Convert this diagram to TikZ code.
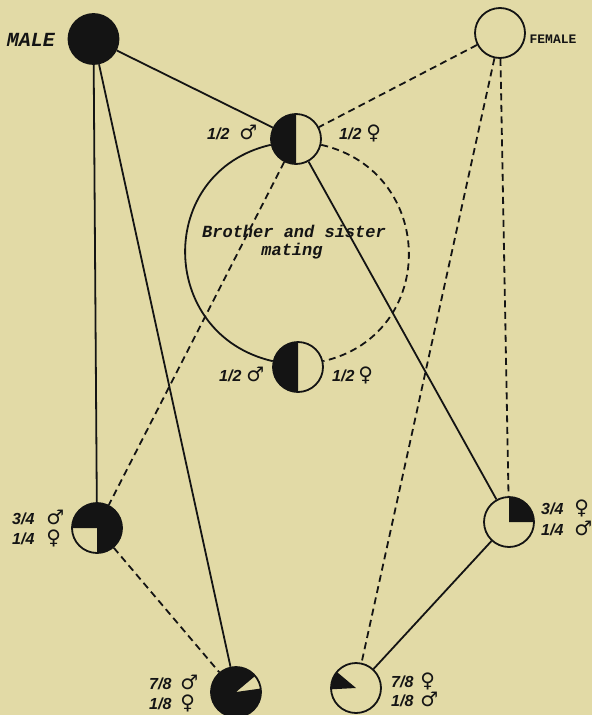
\documentclass[tikz,border=0pt]{standalone}
\usepackage{fontspec}
\newfontfamily\letterfont{Liberation Mono}
\newfontfamily\fracfont{Liberation Sans}
\newfontfamily\symfont{DejaVu Sans}
\definecolor{bg}{HTML}{E2DAA6}
\definecolor{ink}{HTML}{141414}
\newcommand\symb[1]{{\symfont\bfseries\fontsize{20}{18}\selectfont #1}}
\newcommand\onelab[3]{#1\hspace{#3}\symb{#2}}
\newcommand\twolab[6]{\begin{tabular}[t]{@{}l@{\hspace{#5}}l@{}}#1&\symb{#2}\\[#6]#3&\symb{#4}\end{tabular}}
\begin{document}
\begin{tikzpicture}[x=1pt,y=1pt,
  person/.style={circle, draw=ink, line width=1.8pt, minimum size=50pt, inner sep=0pt, fill=bg},
  blk/.style 2 args={path picture={\fill[ink] (path picture bounding box.center) -- ++(#1:40pt) arc[start angle=#1, end angle=#2, radius=40pt] -- cycle;}},
  solidlink/.style={draw=ink, line width=1.8pt},
  dashlink/.style={draw=ink, line width=1.8pt, dash pattern=on 7pt off 4.5pt},
  bigtext/.style={text=ink, inner sep=0pt, font=\letterfont\bfseries\itshape\fontsize{17}{17}\selectfont},
  fractext/.style={text=ink, inner sep=0pt, anchor=base west, font=\fracfont\bfseries\itshape\fontsize{16}{18}\selectfont}
]
\fill[bg] (0,0) rectangle (592,-715);
\useasboundingbox (0,0) rectangle (592,-715);

% persons
\node[person, fill=ink] (male) at (93.5,-39) {};
\node[person] (female) at (500,-33) {};
\node[person, blk={90}{270}] (top) at (296,-139) {};
\node[person, blk={90}{270}] (bot) at (298,-367) {};
\node[person, blk={270}{540}] (ll) at (97,-528) {};
\node[person, blk={0}{90}] (lr) at (509,-522) {};
\node[person, blk={40}{368}] (bl) at (236,-692) {};
\node[person, blk={140}{183}] (br) at (356,-688) {};

% connectors
\draw[solidlink] (male) -- (top);
\draw[solidlink] (male) -- (ll);
\draw[solidlink] (male) -- (bl);
\draw[dashlink] (female) -- (top);
\draw[dashlink] (female) -- (lr);
\draw[dashlink] (female) -- (br);
\draw[dashlink] (top) -- (ll);
\draw[solidlink] (top) -- (lr);
\draw[dashlink] (ll) -- (bl);
\draw[solidlink] (lr) -- (br);
\draw[solidlink] (top) to[out=193, in=167, looseness=1.4] (bot);
\draw[dashlink] (top) to[out=-13, in=13, looseness=1.4] (bot);

% titles
\node[bigtext, font=\letterfont\bfseries\itshape\fontsize{20}{20}\selectfont] (maletxt) at (31,-40) {MALE};
\node[bigtext, font=\letterfont\bfseries\fontsize{13}{13}\selectfont] (femtxt) at (553,-39) {FEMALE};
\node[bigtext, anchor=base] (bro) at (294,-237) {Brother and sister};
\node[bigtext, anchor=base] (mat) at (292,-255) {mating};

% fraction labels
\node[fractext] (l1) at (207,-139) {\onelab{1/2}{♂}{10pt}};
\node[fractext] (l2) at (339,-139) {\onelab{1/2}{♀}{5pt}};
\node[fractext] (l3) at (219,-381) {\onelab{1/2}{♂}{5pt}};
\node[fractext] (l4) at (332,-381) {\onelab{1/2}{♀}{4pt}};
\node[fractext] (l5) at (12,-524) {\twolab{3/4}{♂}{1/4}{♀}{12pt}{0pt}};
\node[fractext] (l6) at (541,-514) {\twolab{3/4}{♀}{1/4}{♂}{11pt}{2pt}};
\node[fractext] (l7) at (149,-689) {\twolab{7/8}{♂}{1/8}{♀}{9pt}{0pt}};
\node[fractext] (l8) at (391,-687) {\twolab{7/8}{♀}{1/8}{♂}{7pt}{0pt}};
\end{tikzpicture}
\end{document}
